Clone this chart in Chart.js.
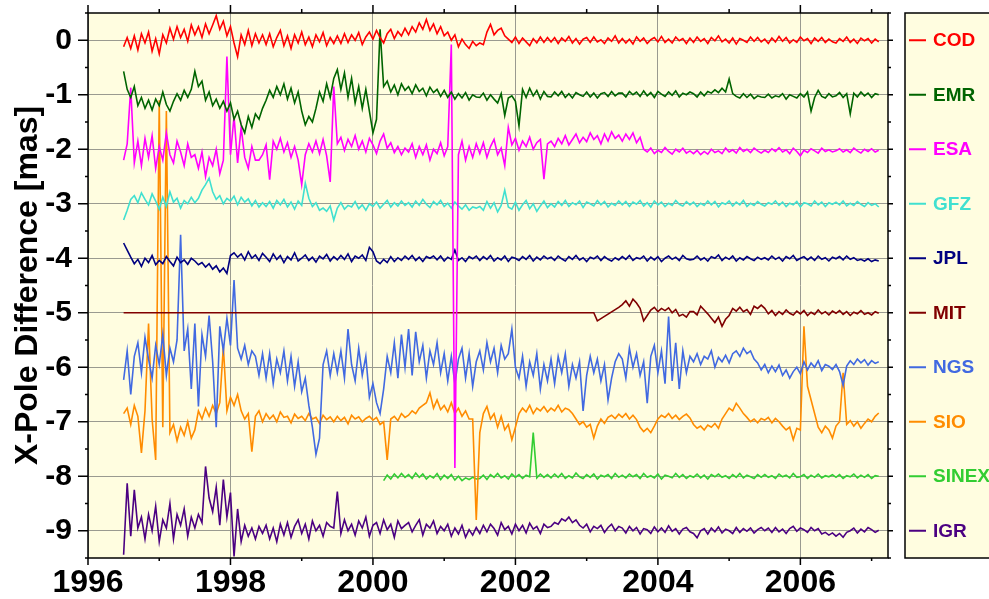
<!DOCTYPE html>
<html>
<head>
<meta charset="utf-8">
<script src="https://cdn.jsdelivr.net/npm/chart.js@4.4.0/dist/chart.umd.min.js"></script>
<style>
  html, body { margin: 0; padding: 0; background: #ffffff; }
</style>
</head>
<body>
<canvas id="pole-chart" width="989" height="599"></canvas>
<script>
// Common time grid of the series (decimal years)
const tStart = 1996.5;
const tStep = 0.05;

const centers = ['COD', 'EMR', 'ESA', 'GFZ', 'JPL', 'MIT', 'NGS', 'SIO', 'SINEX', 'IGR'];
const offsets = [0, -1, -2, -3, -4, -5, -6, -7, -8, -9]; // each series is shifted by 1 mas
const xTicks = [1996, 1998, 2000, 2002, 2004, 2006];
const yTicks = [0, -1, -2, -3, -4, -5, -6, -7, -8, -9];

// Differences in 0.01 mas, one row per year (row starts at mid-year)
const cod = [
  -12, 5, -15, 8, -18, 12, -5, 15, -20, 3, -25, 10, -5, 22, 2, 25, 5, 20, -2, 28,
  10, 25, 5, 30, 12, 28, 45, 20, 35, 8, 25, -5, -30, 10, -8, 18, -10, 12, -5, 10,
  -8, 12, -12, 5, 18, -10, 8, -15, 10, -5, 15, -8, 6, -12, 10, -3, 14, -10, 5, -6,
  8, -6, 12, -4, 10, 0, 14, -8, 6, 15, 2, 18, 5, -5, 12, 20, 3, 16, 8, 22,
  10, 25, 15, 32, 20, 38, 18, 30, 12, 25, 8, 15, 0, 10, -12, 2, -8, -15, -2, -10,
  -5, -8, 15, 29, 10, 18, 22, 8, 2, -4, 6, -6, 4, -3, -10, 3, -5, 6, -4, 5,
  -3, 5, -6, 4, -2, 7, -5, 3, -7, 2, 5, -4, 6, -3, 1, -6, 4, -2, 8, -5,
  3, -5, 2, -7, 6, -2, 4, -6, 1, 5, -3, 7, -4, 2, -5, 6, -1, 3, -6, 4,
  -4, 6, -2, 3, -6, 5, -1, 8, -3, 2, -5, 4, -7, 3, 0, -4, 6, -2, 5, -3,
  2, -6, 4, -3, 7, -2, 5, -5, 1, -4, 6, -1, 3, -6, 4, -2, 5, -4, 2, -3,
  -5, 3, -2, 6, -4, 2, -6, 4, -1, 3, -5, 2, -3
];
const emr = [
  43, 10, -5, 15, -20, -5, -25, -10, -28, -8, -20, 5, -18, -30, -12, 2, -10, 8, -5, 10,
  43, 15, 25, -10, 5, -20, -8, -25, -12, -30, -15, -45, -30, -55, -70, -40, -60, -35, -45, -25,
  -10, 8, -5, 15, 0, 20, -8, 12, -15, 5, -30, -55, -40, -50, -25, 5, -12, 20, -5, 30,
  46, 10, 40, -5, 30, -15, 15, -25, 10, -30, -70, -45, 120, 15, 25, 5, 18, 0, 20, 8,
  15, 2, 18, 6, 12, -2, 14, 4, 10, -3, 8, -5, 5, -8, 2, -6, 4, -10, 0, -4,
  -5, 3, -10, 0, -8, -15, 2, -38, -6, -2, -12, -57, 10, -5, 12, -2, 8, -8, 6, -3,
  -4, 5, -2, 6, -5, 2, -6, 4, 0, -3, 5, -4, 3, -6, 2, 4, -3, 6, -2, 3,
  3, -4, 6, 0, 5, -3, 7, -2, 4, -5, 6, 1, -3, 5, -1, 7, -4, 3, 0, 5,
  2, -4, 5, -2, 6, 3, 9, 4, 12, 5, 29, 2, -3, -6, 2, -5, 1, -7, -2, -4,
  -5, 1, -6, -2, -4, 2, -8, 0, -3, -6, 2, -4, 5, -30, -5, 8, -3, -6, 2, -4,
  -2, 4, -5, 2, -35, 3, -4, 5, -2, 3, -5, 2, 0
];
const esa = [
  -20, 10, 113, -25, 15, -30, 20, -15, 25, -35, 5, -20, 30, -10, -25, 15, -5, -30, 10, -15,
  -10, -35, -5, -50, -15, -30, 0, -45, -20, 170, -10, 60, -25, 40, -15, -35, 5, -20, -20, -10,
  8, -56, 15, 0, 20, -5, 12, -15, 5, -20, -65, -10, 10, -5, 15, -8, 18, -12, -60, 115,
  10, 22, -2, 18, 5, 25, 0, 15, -5, 20, 8, -8, 15, 28, 2, 12, -6, 5, -10, 2,
  -5, 10, -15, 5, -10, 8, -20, 0, -8, 12, -12, 5, 192, -585, -10, 15, -20, 5, -15, 10,
  -8, 12, -15, 5, 18, -10, 2, -30, 40, 8, 20, -2, 15, 5, 22, 0, 12, 18, -55, 10,
  15, 5, 20, 10, 25, 8, 18, 28, 12, 22, 14, 30, 18, 25, 10, 28, 15, 32, 20, 26,
  15, 28, 18, 30, 12, 22, 0, -5, 2, -8, -2, -6, 3, -4, -9, 0, -5, 2, -7, -3,
  -8, -2, -10, -4, -9, 0, -6, -3, -8, 2, -5, -1, -7, 3, -4, 0, -6, 2, -3, -7,
  -2, -6, 1, -4, 3, -5, -1, -8, 2, -4, -12, -2, -6, 1, -3, -7, 2, -4, -1, -5,
  -3, 1, -5, -1, -6, 2, -3, -7, 0, -4, 1, -5, -2
];
const gfz = [
  -30, -12, 8, 15, 2, 20, 8, -2, 18, 5, -10, 12, -5, 22, 3, 10, -8, 6, 0, 12,
  2, 10, 25, 35, 47, 22, 8, 15, 0, 10, 5, 14, -2, 12, 3, 9, -4, 6, -6, 2,
  -5, 4, -8, 6, -2, 8, -6, 3, -10, 5, -3, 38, 10, -5, 2, -12, -8, -14, -4, -30,
  -8, 2, -10, -3, -6, 4, -9, -2, -12, 0, -5, 3, -8, -1, 6, -6, 2, -4, 5, -3,
  2, -6, 5, -3, 8, -1, -7, 4, -2, 6, -5, 1, -8, 3, -4, -10, -2, -12, -6, -8,
  -5, -12, 4, -8, 2, -15, -3, 25, -6, -10, 3, -12, -2, 6, -9, 0, -14, -4, 5, -7,
  0, -6, 4, -3, 6, -5, 2, -2, 5, -7, 3, 0, -4, 6, -2, 4, -6, 1, -3, 5,
  -2, 4, -5, 3, -1, 6, -4, 2, -6, 5, -2, 3, -5, 1, -3, 6, -1, -4, 4, -2,
  3, -5, 1, -3, 5, -2, 4, -6, 2, -1, 5, -4, 3, -2, 6, -5, 1, -3, 4, -1,
  -4, 2, -1, 5, -3, 3, -5, 1, -2, 4, -6, 2, 0, -4, 5, -2, 3, -5, 2, -1,
  3, -2, 5, -4, 1, -3, 4, -1, -5, 2, -3, 0, -6
];
const jpl = [
  28, 15, 2, -10, -2, -15, 0, -8, 5, -12, -4, -10, 3, -6, -14, 2, -8, -3, -11, 0,
  -5, -12, -8, -16, -10, -20, -14, -25, -18, -28, 5, 10, 2, 8, -3, 12, 0, 6, -4, 9,
  2, -6, 8, -2, 5, -8, 3, -3, 10, -5, 0, 6, -4, 2, -7, 4, -1, 7, -5, 3,
  -3, 5, -2, 8, -6, 4, 0, 6, -4, 20, 12, -5, -10, -2, -8, 3, -6, 1, -4, 4,
  -2, 5, -4, 2, -6, 3, 0, 4, -3, 4, -5, 2, -2, 15, -4, 1, -6, 3, -1, 4,
  -4, 3, -2, 5, -5, 1, -3, 4, -6, 2, 0, -4, 3, -2, 5, -5, 2, -3, 4, -1,
  2, -4, 4, -1, -5, 3, -2, 5, -3, 1, -6, 2, -1, 4, -4, 3, -2, -5, 1, -3,
  3, -2, 5, -4, 1, -1, 4, -5, 2, -3, 3, -6, 0, 4, -2, 2, -4, 5, -1, -3,
  -2, 4, -3, 1, -5, 3, 0, 6, -4, 2, -2, 4, -5, 1, -3, 3, -1, -4, 2, -2,
  1, -3, 4, -2, 2, -5, 3, -1, 5, -4, 0, 3, -3, 2, -4, 4, -2, 1, -5, 2,
  -1, 3, -3, 4, -2, 1, -4, -2, -5, -1, -6, -3, -5
];
const mit = [
  0, 0, 0, 0, 0, 0, 0, 0, 0, 0, 0, 0, 0, 0, 0, 0, 0, 0, 0, 0,
  0, 0, 0, 0, 0, 0, 0, 0, 0, 0, 0, 0, 0, 0, 0, 0, 0, 0, 0, 0,
  0, 0, 0, 0, 0, 0, 0, 0, 0, 0, 0, 0, 0, 0, 0, 0, 0, 0, 0, 0,
  0, 0, 0, 0, 0, 0, 0, 0, 0, 0, 0, 0, 0, 0, 0, 0, 0, 0, 0, 0,
  0, 0, 0, 0, 0, 0, 0, 0, 0, 0, 0, 0, 0, 0, 0, 0, 0, 0, 0, 0,
  0, 0, 0, 0, 0, 0, 0, 0, 0, 0, 0, 0, 0, 0, 0, 0, 0, 0, 0, 0,
  0, 0, 0, 0, 0, 0, 0, 0, 0, 0, 0, 0, 0, -15, null, null, null, null, null, 10,
  15, 22, 12, 25, 18, 8, -15, -5, 5, 10, 2, 8, 4, 9, 0, 6, -6, -3, -8, 2,
  2, -4, 12, 5, -2, -10, -18, -8, -25, -12, -5, 8, 3, 10, 2, 6, -3, 12, 8, 14,
  8, -2, 4, -5, 2, -3, 5, -1, -4, 3, -2, 4, -5, 1, -3, 5, -2, 2, -4, 3,
  -1, 4, -3, 2, -5, 1, -2, 4, -3, 0, -4, 2, -1
];
const ngs = [
  -23, 30, -50, 20, 45, -10, 55, 15, -20, 40, 5, 60, -15, 35, 10, 50, 243, 30, 70, -40,
  80, -72, 60, 20, 95, 10, -110, 75, 30, 90, 40, 160, 35, 15, 40, 5, 30, 20, -15, 25,
  -20, 25, -30, 15, -10, 30, -25, 20, -35, 10, -45, -20, -70, -110, -160, -130, 5, 30, -15, 25,
  -10, 30, -20, 70, 5, -25, 35, -15, 20, -55, -30, -65, -85, -40, 20, -10, 45, -20, 60, 0,
  70, -15, 65, 10, 40, -20, 30, 5, 45, -10, 25, -25, 20, -30, 15, 35, -20, 25, -35, 10,
  30, -5, 45, 10, 35, -10, 40, 15, 25, 70, 0, -20, 20, -35, 10, -15, 25, -40, 5, -25,
  15, -30, 20, -10, 25, -35, 5, -20, 10, -80, -15, 20, -10, 15, -25, 5, -60, -20, 10, 25,
  15, -20, 35, 0, 25, -15, 10, -66, 20, 40, -10, 30, -30, 93, -25, 45, -40, 30, -10, 20,
  10, 25, 5, 20, 15, 30, 0, 18, 10, 22, 8, 25, 30, 20, 35, 25, 30, 15, 8, -5,
  5, -10, 2, -8, 4, -15, -5, -20, -8, 0, -12, 10, -5, 8, 0, 12, -6, 5, 2, -4,
  5, -8, -33, 2, 12, 5, 15, 8, 14, 4, 12, 7, 10
];
const sio = [
  15, 25, -5, 30, 10, -57, 20, 180, 5, -70, 590, -10, 570, -20, -5, -35, -10, -25, 0, -30,
  -15, 20, 5, 25, 10, 30, 15, 35, 138, 20, 45, 30, 50, 20, 5, 15, -55, 10, 20, 0,
  15, 5, 12, 0, 18, 8, 10, -2, 14, 6, 10, 2, 15, 5, 8, -3, 12, 4, 9, 0,
  10, 2, 8, -4, 12, 5, 9, 0, 6, 10, 3, 8, -5, 0, -70, 5, 10, 2, 15, 8,
  12, 20, 15, 25, 30, 35, 53, 25, 40, 22, 30, 18, 35, 15, 25, 10, 20, 5, 5, -180,
  -20, 15, 28, 5, 15, -10, 10, -15, -5, -33, -10, 15, 25, 18, 30, 15, 25, 20, 28, 18,
  25, 20, 30, 18, 25, 22, 15, 5, -5, 0, -10, -5, -30, -8, 5, -3, 8, 12, 6, 14,
  8, 15, 5, 12, 4, -10, -18, -12, -20, -8, 5, 12, 8, 15, 6, 12, 4, 10, 14, 7,
  -5, -12, -8, -15, -6, -10, -3, -12, 5, 15, 25, 20, 34, 25, 15, 8, 0, 5, -2, 6,
  3, 8, -2, 6, 0, -8, -15, -10, -33, -12, -15, 175, 65, null, null, -10, -20, -8, -15, -30,
  -8, 0, 90, -5, 2, -8, 0, -12, -3, 5, 0, 10, 16
];
const sinex = [
  null, null, null, null, null, null, null, null, null, null, null, null, null, null, null, null, null, null, null, null,
  null, null, null, null, null, null, null, null, null, null, null, null, null, null, null, null, null, null, null, null,
  null, null, null, null, null, null, null, null, null, null, null, null, null, null, null, null, null, null, null, null,
  null, null, null, null, null, null, null, null, null, null, null, null, null, -8, 2, -5, 4, -3, 5, -2,
  3, -4, 6, -2, 4, -5, 1, -3, 5, -6, 2, -4, 3, -7, 0, -8, -3, -6, -2, -5,
  -4, 2, -6, 3, -2, 5, -3, 1, -5, 4, -2, 3, -4, 2, -1, 80, -3, 4, -2, 3,
  -3, 4, -2, 5, -4, 1, -3, 6, -1, -4, 3, -2, 4, -5, 2, -1, 3, -4, 5, -2,
  2, -3, 4, -1, 3, -4, 5, -2, 1, -3, 4, -5, 2, 0, -3, 5, -2, 3, -4, 1,
  -2, 4, -3, 2, -5, 3, -1, 4, -2, 1, -4, 3, -2, 5, -3, 2, -1, -4, 3, -2,
  3, -2, 1, -4, 4, -1, 2, -3, 5, -2, -1, 3, -4, 2, -2, 4, -3, 1, -1, 3,
  -2, 3, -4, 1, -1, 4, -3, 2, -2, 3, -4, 1, 0
];
const igr = [
  -44, 87, -10, 75, 5, 25, -15, 30, 0, 45, -20, 20, 5, 50, -15, 30, 10, 40, -10, 25,
  5, 30, 15, 118, 60, 35, 80, 10, 94, 25, 70, -47, 40, -20, 10, -10, 5, -15, 8, -5,
  10, -15, 5, -20, 12, -8, 15, -12, 8, 20, -5, 12, -15, 18, 0, 10, -10, 15, 8, 5,
  72, -5, 20, 0, 12, -8, 18, 5, 25, -10, 10, 15, -5, 20, 2, 12, -12, 18, 4, 10,
  15, -2, 10, 20, -8, 12, 5, 18, -5, 8, 0, 12, -10, 5, -6, 10, -12, 2, -8, 6,
  -5, 10, -2, 12, 4, -8, 15, 2, 8, -6, 12, 0, 10, -4, 14, 3, 8, -5, 12, 6,
  8, 15, 12, 22, 18, 25, 15, 20, 10, 5, 12, -2, 8, 4, 10, -3, 6, 12, 0, 8,
  5, -4, 8, 0, 6, -6, 4, 2, -5, 7, -2, 5, -3, 9, -1, 4, -6, 3, 6, -2,
  -5, -13, 0, 4, -6, 5, -2, 7, -4, 3, 0, -5, 6, -3, 4, -1, 5, -4, 2, 6,
  0, 5, -3, 6, -2, 3, -5, 4, 8, -1, 5, 2, -3, 6, 0, 4, -6, -3, -8, -4,
  -10, -5, -12, -3, 0, 5, -4, 3, -2, 6, 2, -3, 1
];

const series = [cod, emr, esa, gfz, jpl, mit, ngs, sio, sinex, igr];
const colors = ['#ff0000', '#006400', '#ff00ff', '#40e0d0', '#000080',
                '#800000', '#4169e1', '#ff8c00', '#32cd32', '#4b0082'];

const FONT = "'Liberation Sans', Arial, Helvetica, sans-serif";
const plotBg = '#fffde0';

// Light yellow plot background
const backgroundPlugin = {
    id: 'background',
    beforeDraw(chart) {
        const { ctx, chartArea: a } = chart;
        ctx.save();
        ctx.fillStyle = '#ffffff';
        ctx.fillRect(0, 0, chart.width, chart.height);
        ctx.fillStyle = plotBg;
        ctx.fillRect(a.left, a.top, a.right - a.left, a.bottom - a.top);
        ctx.restore();
    }
};

// Frame, outward major/minor ticks on all sides, and the legend panel
const framePlugin = {
    id: 'frame',
    afterDraw(chart) {
        const { ctx, chartArea: a } = chart;
        const xs = chart.scales.x, ys = chart.scales.y;
        ctx.save();
        ctx.strokeStyle = '#000';
        ctx.lineWidth = 1.5;
        ctx.strokeRect(a.left, a.top, a.right - a.left, a.bottom - a.top);

        ctx.beginPath();
        for (let yr = 1996; yr <= 2007; yr++) {
            const px = xs.getPixelForValue(yr);
            const major = yr % 2 === 0;
            ctx.moveTo(px, a.bottom); ctx.lineTo(px, a.bottom + (major ? 7 : 3));
            ctx.moveTo(px, a.top); ctx.lineTo(px, a.top - (major ? 8 : 4));
        }
        for (let v = -9.5; v <= 0.5; v += 0.5) {
            const py = ys.getPixelForValue(v);
            const major = Number.isInteger(v);
            ctx.moveTo(a.left, py); ctx.lineTo(a.left - (major ? 10 : 3), py);
            ctx.moveTo(a.right, py); ctx.lineTo(a.right + (major ? 5 : 3), py);
        }
        ctx.stroke();

        // legend panel
        const boxLeft = 905;
        ctx.fillStyle = plotBg;
        ctx.fillRect(boxLeft, a.top, chart.width - boxLeft + 10, a.bottom - a.top);
        ctx.strokeRect(boxLeft, a.top, chart.width - boxLeft + 10, a.bottom - a.top);

        ctx.font = 'bold 19px ' + FONT;
        ctx.textBaseline = 'middle';
        ctx.textAlign = 'left';
        centers.forEach((name, k) => {
            const py = ys.getPixelForValue(offsets[k]);
            ctx.strokeStyle = colors[k];
            ctx.lineWidth = 2;
            ctx.beginPath();
            ctx.moveTo(909, py); ctx.lineTo(926, py);
            ctx.stroke();
            ctx.fillStyle = colors[k];
            ctx.fillText(name, 933, py + 1);
        });
        ctx.restore();
    }
};

const datasets = centers.map((name, k) => ({
    label: name,
    data: series[k].map((v, i) => ({
        x: tStart + i * tStep,
        y: v === null ? null : offsets[k] + v / 100
    })),
    borderColor: colors[k],
    backgroundColor: colors[k],
    borderWidth: 1.6,
    pointRadius: 0,
    tension: 0,
    spanGaps: true
}));

const ctx = document.getElementById('pole-chart').getContext('2d');
const chart = new Chart(ctx, {
    type: 'line',
    data: { datasets: datasets },
    options: {
        responsive: false,
        animation: false,
        events: [],
        layout: { padding: { top: 13, right: 101, left: 0, bottom: 0 } },
        plugins: {
            legend: { display: false },
            tooltip: { enabled: false }
        },
        scales: {
            x: {
                type: 'linear',
                min: 1996,
                max: 2007.23,
                afterBuildTicks: (scale) => { scale.ticks = xTicks.map(v => ({ value: v })); },
                afterFit: (scale) => {
                    scale.height = 41;
                    scale.paddingLeft = 0;
                    scale.paddingRight = 0;
                },
                ticks: {
                    callback: (v) => String(v),
                    font: { family: FONT, size: 32, weight: 'bold' },
                    color: '#000',
                    padding: 6,
                    maxRotation: 0,
                    autoSkip: false
                },
                grid: { color: '#9a9a90', lineWidth: 1, drawTicks: false },
                border: { display: false }
            },
            y: {
                min: -9.5,
                max: 0.5,
                afterBuildTicks: (scale) => { scale.ticks = yTicks.map(v => ({ value: v })); },
                afterFit: (scale) => {
                    scale.width = 88;
                    scale.paddingTop = 0;
                    scale.paddingBottom = 0;
                },
                ticks: {
                    callback: (v) => String(v),
                    font: { family: FONT, size: 30, weight: 'bold' },
                    color: '#000',
                    padding: 16,
                    autoSkip: false
                },
                grid: { color: '#9a9a90', lineWidth: 1, drawTicks: false },
                border: { display: false },
                title: {
                    display: true,
                    text: 'X-Pole Difference [mas]',
                    font: { family: FONT, size: 32, weight: 'bold' },
                    color: '#000',
                    padding: { top: 9, bottom: 0 }
                }
            }
        }
    },
    plugins: [backgroundPlugin, framePlugin]
});
</script>
</body>
</html>
